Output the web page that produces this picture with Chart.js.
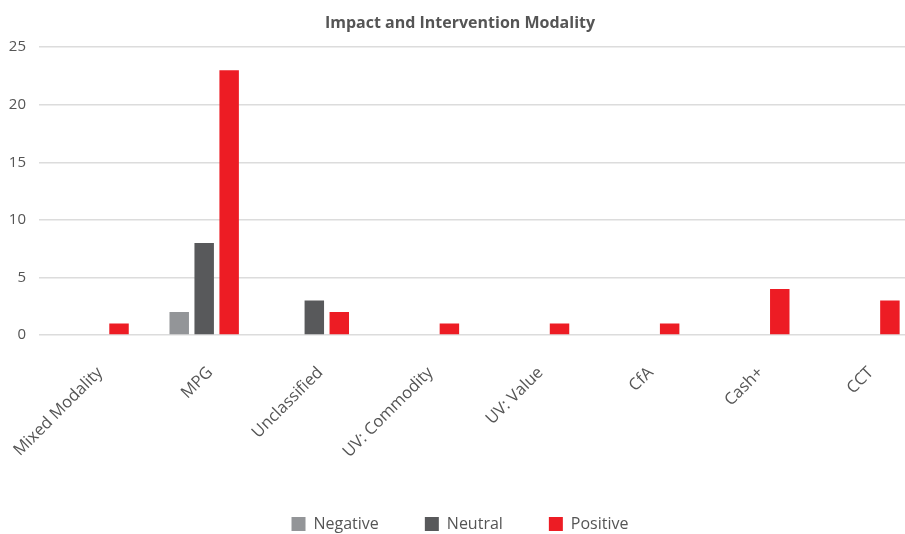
<!DOCTYPE html>
<html>
<head>
<meta charset="utf-8">
<script src="https://cdn.jsdelivr.net/npm/chart.js@4"></script>
<style>
  body { margin: 0; overflow: hidden; background: #fff; }
  #box { width: 920px; height: 542px; }
</style>
</head>
<body>
<div id="box"><canvas id="grafico"></canvas></div>
<script>
// dados do gráfico
const categorias = ['Mixed Modality', 'MPG', 'Unclassified', 'UV: Commodity', 'UV: Value', 'CfA', 'Cash+', 'CCT'];
const negativo = [0, 2, 0, 0, 0, 0, 0, 0];
const neutro = [0, 8, 3, 0, 0, 0, 0, 0];
const positivo = [1, 23, 2, 1, 1, 1, 4, 3];
const ticksY = [0, 5, 10, 15, 20, 25];

const fonte = "'Open Sans', 'Noto Sans', sans-serif";
Chart.defaults.font.family = fonte;
Chart.defaults.color = '#555';

const ctx = document.getElementById('grafico').getContext('2d');
new Chart(ctx, {
    type: 'bar',
    data: {
        labels: categorias,
        datasets: [
            { label: 'Negative', data: negativo, backgroundColor: '#939598' },
            { label: 'Neutral', data: neutro, backgroundColor: '#58595b' },
            { label: 'Positive', data: positivo, backgroundColor: '#ed1c24' }
        ]
    },
    options: {
        responsive: true,
        maintainAspectRatio: false,
        animation: false,
        datasets: {
            bar: { categoryPercentage: 0.68, barPercentage: 0.78 }
        },
        layout: { padding: { top: 8, left: 0, right: 0, bottom: 0 } },
        plugins: {
            title: {
                display: true,
                text: 'Impact and Intervention Modality',
                font: { size: 16, weight: 'bold' },
                color: '#555',
                padding: { top: 6, bottom: 14 }
            },
            legend: {
                position: 'bottom',
                labels: {
                    boxWidth: 14,
                    boxHeight: 14,
                    padding: 46,
                    font: { size: 16 },
                    color: '#555'
                }
            },
            tooltip: { enabled: false }
        },
        scales: {
            x: {
                grid: { display: false },
                border: { display: false },
                ticks: {
                    maxRotation: 45,
                    minRotation: 45,
                    font: { size: 16.5 },
                    color: '#555',
                    padding: 20,
                    labelOffset: 6
                },
                // altura fixa do eixo para não empurrar a área do gráfico
                afterFit: axis => {
                    axis.height = 135;
                    axis.paddingLeft = 0;
                }
            },
            y: {
                min: 0,
                max: 25,
                afterBuildTicks: axis => { axis.ticks = ticksY.map(v => ({ value: v })); },
                afterFit: axis => { axis.width = 39; },
                grid: { color: '#dcdcdc', lineWidth: 1.5, drawTicks: false },
                border: { display: false },
                ticks: { font: { size: 15 }, color: '#555', padding: 13 }
            }
        }
    }
});
</script>
</body>
</html>
